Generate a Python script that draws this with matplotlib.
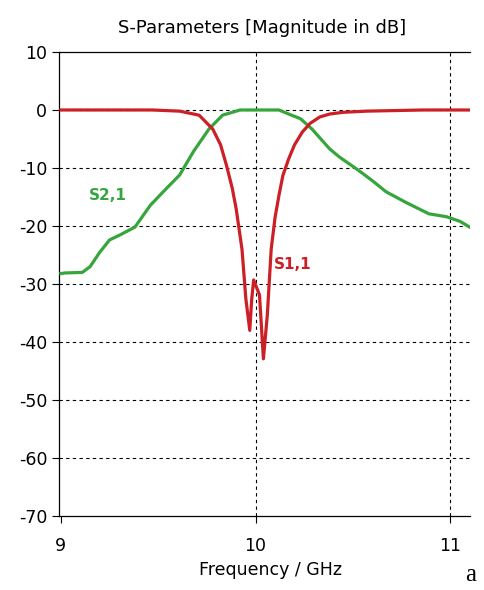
"""
S-parameters chart (S1,1 and S2,1 magnitude in dB).
"""
import matplotlib
matplotlib.use('Agg')
import matplotlib.pyplot as plt

plt.rcParams['axes.unicode_minus'] = False

# S2,1 (transmission)
s21_freq = [9.0, 9.02, 9.11, 9.15, 9.20, 9.25, 9.30, 9.38, 9.46, 9.54, 9.61,
            9.68, 9.76, 9.83, 9.92, 10.02, 10.12, 10.17, 10.23, 10.29, 10.38,
            10.43, 10.52, 10.60, 10.67, 10.77, 10.89, 10.98, 11.05, 11.1]
s21_db = [-28.2, -28.1, -28.0, -27.0, -24.5, -22.4, -21.6, -20.2, -16.4, -13.6,
          -11.2, -7.2, -3.3, -0.9, 0.0, 0.0, 0.0, -0.7, -1.5, -3.3, -6.7,
          -8.1, -10.2, -12.2, -14.1, -15.9, -17.9, -18.4, -19.2, -20.2]

# S1,1 (reflection)
s11_freq = [9.0, 9.47, 9.61, 9.71, 9.78, 9.82, 9.85, 9.88, 9.90, 9.93, 9.95,
            9.97, 9.98, 9.99, 10.02, 10.04, 10.06, 10.08, 10.10, 10.12, 10.14,
            10.17, 10.20, 10.24, 10.28, 10.33, 10.38, 10.45, 10.57, 10.86, 11.1]
s11_db = [0.0, 0.0, -0.2, -0.9, -3.3, -6.0, -9.5, -13.5, -17.0, -24.0, -32.6,
          -38.0, -32.6, -29.3, -31.9, -42.9, -35.4, -24.0, -18.5, -14.7, -11.3,
          -8.4, -6.0, -3.8, -2.3, -1.2, -0.7, -0.4, -0.2, 0.0, 0.0]

y_ticks = [10, 0, -10, -20, -30, -40, -50, -60, -70]
x_ticks = [9, 10, 11]

RED = '#cc1f26'
GREEN = '#35a53c'

fig = plt.figure(figsize=(4.85, 5.9), dpi=100)
ax = fig.add_axes([0.1216, 0.1254, 0.847, 0.7865])

ax.plot(s21_freq, s21_db, color=GREEN, linewidth=2.3, zorder=3)
ax.plot(s11_freq, s11_db, color=RED, linewidth=2.3, zorder=4)

ax.set_xlim(8.99, 11.1)
ax.set_ylim(-70, 10)
ax.set_xticks(x_ticks)
ax.set_yticks(y_ticks)
ax.tick_params(labelsize=12.5, length=5, width=0.8, colors='black')
ax.tick_params(axis='x', pad=10)

# dashed grid (skip the gridline that coincides with the left spine)
for v in y_ticks[1:-1]:
    ax.axhline(v, color='black', linestyle=(0, (3, 3)), linewidth=0.8, zorder=1)
for v in x_ticks[1:]:
    ax.axvline(v, color='black', linestyle=(0, (3, 3)), linewidth=0.8, zorder=1)

ax.spines['right'].set_visible(False)
for s in ['left', 'top', 'bottom']:
    ax.spines[s].set_linewidth(0.9)

ax.text(9.24, -14.7, 'S2,1', color=GREEN, fontsize=11, fontweight='bold',
        ha='center', va='center')
ax.text(10.19, -26.7, 'S1,1', color=RED, fontsize=11, fontweight='bold',
        ha='center', va='center')

fig.text(0.54, 0.953, 'S-Parameters [Magnitude in dB]', fontsize=13,
         ha='center', va='center')
fig.text(0.557, 0.034, 'Frequency / GHz', fontsize=12.5, ha='center',
         va='center')
fig.text(0.97, 0.026, 'a', fontsize=18, family='Liberation Serif',
         ha='center', va='center')

fig.savefig('out.png', dpi=100, facecolor='white')
